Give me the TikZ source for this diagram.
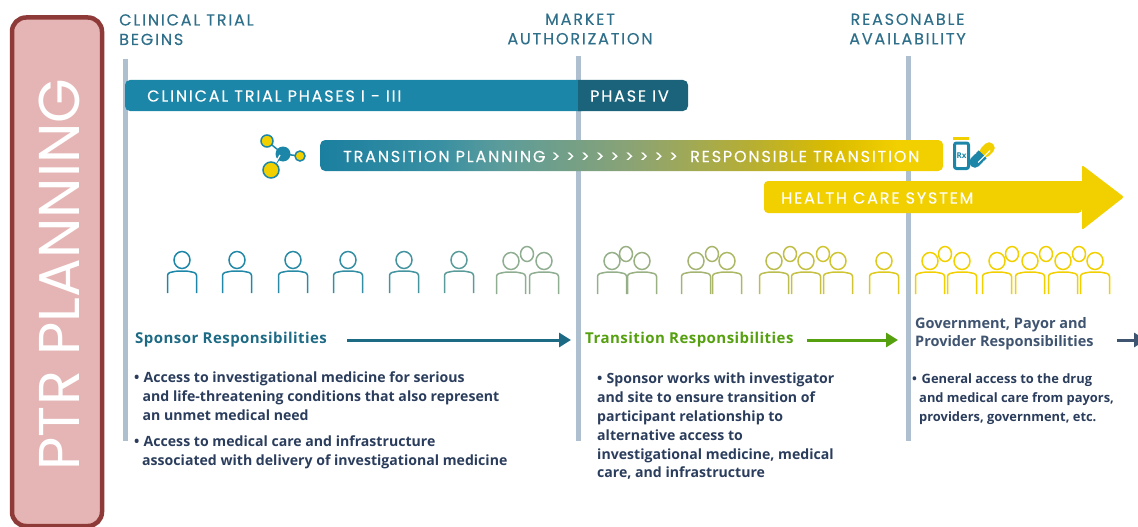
\documentclass[tikz,border=0pt]{standalone}
\usepackage{fontspec}
\setmainfont{Open Sans}
\newfontfamily\headfont[LetterSpace=11.3, FakeBold=0.25]{Poppins}
\newfontfamily\ptrfont{Poppins}
\usetikzlibrary{positioning, arrows.meta}

\definecolor{railgray}{HTML}{AEBFD0}
\definecolor{trialblue}{HTML}{1C86A8}
\definecolor{phasedark}{HTML}{1A637B}
\definecolor{headblue}{HTML}{2F6F8A}
\definecolor{careyellow}{HTML}{F2D000}
\definecolor{bodynavy}{HTML}{2B3D5C}
\definecolor{sponsorblue}{HTML}{1D6A85}
\definecolor{transgreen}{HTML}{55A00F}
\definecolor{govslate}{HTML}{3F5470}
\definecolor{ptrfill}{HTML}{E5B5B5}
\definecolor{ptrline}{HTML}{8E3A38}
\definecolor{peoplemid}{HTML}{8FAD90}

\pgfdeclarehorizontalshading{transfade}{100bp}{
    color(0bp)=(trialblue!95!black);
    color(25bp)=(trialblue!95!black);
    color(34.6bp)=(trialblue!75!peoplemid);
    color(39.4bp)=(trialblue!45!peoplemid);
    color(50bp)=(peoplemid!90!yellow!90!black);
    color(59.5bp)=(peoplemid!40!careyellow!90!black);
    color(65.9bp)=(careyellow!90!black);
    color(71.5bp)=(careyellow);
    color(100bp)=(careyellow)}

\tikzset{
    headlabel/.style={font=\headfont\fontsize{16}{19.5}\selectfont, text=headblue, inner sep=0pt, align=center},
    barlabel/.style={font=\headfont\fontsize{16}{18}\selectfont, text=white, inner sep=0pt, anchor=west},
    resp/.style={font=\bfseries\fontsize{15}{18}\selectfont\addfontfeatures{LetterSpace=3}, inner sep=0pt, anchor=west, align=left},
    bodytext/.style={font=\bfseries\fontsize{14.1}{18.8}\selectfont, text=bodynavy, inner sep=0pt, anchor=north west, align=left},
    rail/.style={railgray, line width=5pt},
    resparrow/.style={line width=3pt, -{Triangle[length=12pt,width=14pt]}},
    pics/person/.style={code={
        \draw[#1, line width=1.5pt] (0,0) ellipse (8pt and 8.5pt);
        \draw[#1, line width=1.5pt, rounded corners=2.5pt] (-14.5,33) -- (-14.5,13) -- (-5,11) -- (5,11) -- (14.5,13) -- (14.5,33);
    }},
    pics/backhead/.style={code={
        \draw[#1, line width=1.5pt] (0,0) ellipse (6.5pt and 7.5pt);
    }}
}
\newcommand{\bul}{\makebox[9.5pt][l]{\textbullet}}

\begin{document}
\begin{tikzpicture}[x=1pt, y=-1pt]
    \useasboundingbox (0,0) rectangle (1138,527);

    % left banner
    \node[draw=ptrline, fill=ptrfill, line width=4.5pt, rounded corners=14pt, minimum width=90pt, minimum height=508.5pt, anchor=north west] (banner) at (9.75,15.25) {};
    \node[rotate=90, text=white, font=\ptrfont\fontsize{57.5}{60}\selectfont, inner sep=0pt] (ptr) at (59,274.5) {PTR PLANNING};

    % milestones
    \coordinate (railA) at (125,59);
    \coordinate (railB) at (578,56);
    \coordinate (railC) at (908,56);
    \draw[rail] (railA) -- (125,441);
    \draw[rail] (railB) -- (578,441);
    \draw[rail] (railC) -- (908,441);
    \node[headlabel, align=left, anchor=north west] (begins) at (119,14) {CLINICAL TRIAL\\BEGINS};
    \node[headlabel] (market) at (580,29) {MARKET\\AUTHORIZATION};
    \node[headlabel] (reasonable) at (907.5,29) {REASONABLE\\AVAILABILITY};

    % bars
    \fill[trialblue, rounded corners=5pt] (125,80) -- (125,111) -- (585,111) [sharp corners] -- (578,111) -- (578,80) [rounded corners=5pt] -- cycle;
    \fill[phasedark, rounded corners=5pt] (578,80) [sharp corners] -- (578,111) [rounded corners=5pt] -- (688,111) -- (688,80) [sharp corners] -- cycle;
    \node[barlabel] (phases) at (147,96) {CLINICAL TRIAL PHASES I - III};
    \node[barlabel] (phasefour) at (590,96) {PHASE IV};

    \node[shading=transfade, rounded corners=5pt, minimum width=623pt, minimum height=31pt, inner sep=0pt, anchor=west] (transbar) at (320,155.5) {};
    \node[barlabel] (transtext) at (343,156.5) {TRANSITION PLANNING > > > > > > > > >};
    \node[barlabel] (resptext) at (690,156.5) {RESPONSIBLE TRANSITION};

    \fill[careyellow, rounded corners=4pt] (764,181) -- (764,213) -- (1082,213) [sharp corners] -- (1082,213) [rounded corners=2pt] -- (1082,230) -- (1124,197) -- (1082,165) [sharp corners] -- (1082,181) [rounded corners=4pt] -- cycle;
    \node[barlabel] (health) at (781,198) {HEALTH CARE SYSTEM};

    % molecule
    \draw[trialblue, line width=1.5pt] (267,141) -- (283,154) -- (300,156);
    \draw[trialblue, line width=1.5pt] (283,154) -- (271,170);
    \fill[trialblue] (283,154) circle (7.5pt);
    \draw[white, line width=1.3pt] (280,155) -- (275,164);
    \draw[trialblue, fill=careyellow, line width=1.5pt] (267,141) circle (6pt);
    \draw[trialblue, fill=careyellow, line width=1.5pt] (300,156) circle (5pt);
    \draw[trialblue, fill=careyellow, line width=1.5pt] (271,170) circle (8pt);

    % medicine
    \fill[careyellow] (953,136.5) rectangle (969,140);
    \draw[trialblue, line width=3pt, rounded corners=2pt] (954.5,143) rectangle (968.5,168.5);
    \node[text=trialblue, font=\bfseries\fontsize{8}{8}\selectfont, inner sep=0pt] (rx) at (961.5,155.5) {Rx};
    \begin{scope}[shift={(982,155)}, rotate=45]
        \fill[careyellow, rounded corners=5pt] (-1,-5.5) rectangle (15.5,5.5);
        \fill[trialblue, rounded corners=5pt] (-15.5,-5.5) rectangle (1,5.5);
        \fill[trialblue] (-3,-5.5) rectangle (1,5.5);
        \draw[white, line width=1pt] (-8,2.5) -- (9,2.5);
    \end{scope}

    % people
    \foreach \px/\tint in {182/100, 237/95, 293/90, 348/80, 404/65, 459/45}
        \pic at (\px,260) {person={trialblue!\tint!peoplemid}};
    \foreach \px/\tint in {527/100, 626/90, 712/75, 790/50, 823/35, 945/0, 1012/0, 1046/0, 1079/0}
        \pic at (\px,254) {backhead={peoplemid!\tint!careyellow}};
    \foreach \px/\tint in {511/100, 544/100, 612/95, 642/90, 696/80, 727/70, 774/55, 806/45, 838/35, 884/20}
        \pic at (\px,261) {person={peoplemid!\tint!careyellow}};
    \foreach \px in {930, 962, 997, 1030, 1063, 1095}
        \pic at (\px,261) {person={careyellow}};

    % responsibilities
    \node[resp, text=sponsorblue] (sponsor) at (135,340) {Sponsor Responsibilities};
    \node[resp, text=transgreen] (transition) at (585,340) {Transition Responsibilities};
    \node[resp, text=govslate, font=\bfseries\fontsize{14.5}{18}\selectfont] (gov) at (915,334) {Government, Payor and\\Provider Responsibilities};
    \coordinate (edge) at (1146,340);
    \draw[resparrow, sponsorblue, shorten <=20pt, shorten >=14pt] (sponsor.east) -- (transition.west);
    \draw[resparrow, transgreen, shorten <=13pt, shorten >=17pt] (transition.east) -- (transition.east -| gov.west);
    \draw[resparrow, govslate, shorten <=23pt] (gov.east |- edge) -- (edge);

    % body text
    \node[bodytext] (bodya) at (134,372) {\bul Access to investigational medicine for serious\\\hspace*{8.5pt}and life-threatening conditions that also represent\\\hspace*{8.5pt}an unmet medical need};
    \node[bodytext] (bodyb) at (134,436) {\bul Access to medical care and infrastructure\\\hspace*{8pt}associated with delivery of investigational medicine};
    \node[bodytext] (bodyc) at (597,373) {\bul Sponsor works with investigator\\and site to ensure transition of\\participant relationship to\\alternative access to\\investigational medicine, medical\\care, and infrastructure};
    \node[bodytext, font=\bfseries\fontsize{12.9}{19}\selectfont] (bodyd) at (912,373) {\bul General access to the drug\\\hspace*{7pt}and medical care from payors,\\\hspace*{7pt}providers, government, etc.};
\end{tikzpicture}
\end{document}
